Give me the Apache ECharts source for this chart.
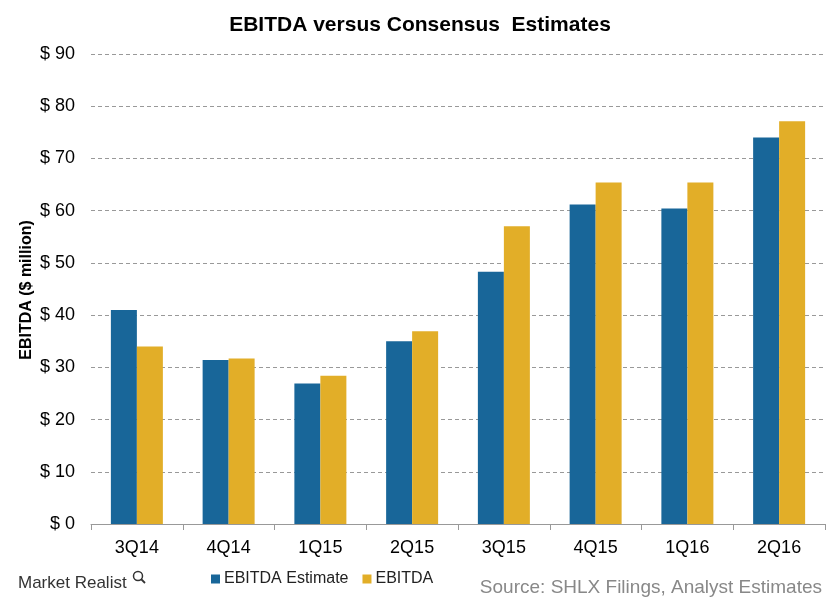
<!DOCTYPE html>
<html><head><meta charset="utf-8">
<script src="https://cdn.jsdelivr.net/npm/echarts@6/dist/echarts.min.js"></script>
<style>html,body{margin:0;padding:0;background:#fff}#c{width:840px;height:601px}</style>
</head><body><div id="c"></div>
<script>
var categories = ['3Q14','4Q14','1Q15','2Q15','3Q15','4Q15','1Q16','2Q16'];
var estimate = [41.0, 31.4, 26.9, 35.0, 48.3, 61.2, 60.4, 74.0];
var ebitda = [34.0, 31.7, 28.4, 36.9, 57.0, 65.4, 65.4, 77.1];
var yTicks = [0,10,20,30,40,50,60,70,80,90];
var yName = 'EBITDA ($ million)';

var chart = echarts.init(document.getElementById('c'), null, {renderer:'canvas'});
var font = 'Liberation Sans, Arial, sans-serif';
chart.setOption({
  animation:false,
  backgroundColor:'#fff',
  title:{text:'EBITDA versus Consensus  Estimates', left:'center', top:10,
    textStyle:{fontFamily:font, fontSize:21, fontWeight:'bold', color:'#000'}},
  grid:{left:91, right:15, top:54, bottom:77},
  legend:{top:566, left:206, itemWidth:9, itemHeight:9, itemGap:14, icon:'rect',
    textStyle:{fontFamily:font, fontSize:16, color:'#222', padding:[0,0,0,-1]},
    data:['EBITDA Estimate','EBITDA']},
  xAxis:{type:'category', data:categories,
    axisLine:{lineStyle:{color:'#999'}},
    axisTick:{show:true, length:6, lineStyle:{color:'#999'}},
    axisLabel:{fontFamily:font, fontSize:18, color:'#000', margin:15}},
  yAxis:{type:'value', min:0, max:90, interval:10,
    axisLine:{show:false}, axisTick:{show:false},
    axisLabel:{fontFamily:font, fontSize:18, color:'#000', margin:16,
      formatter:function(v){return yTicks.indexOf(v)>=0 ? '$ '+v : '';}},
    splitLine:{lineStyle:{color:'#999', type:[4,3]}}},
  series:[
    {name:'EBITDA Estimate', type:'bar', data:estimate, barWidth:26, barGap:'0%',
      itemStyle:{color:'#186699'}},
    {name:'EBITDA', type:'bar', data:ebitda, barWidth:26,
      itemStyle:{color:'#E2AE28'}}
  ],
  graphic:[
    {type:'text', x:27, y:290, rotation:Math.PI/2,
      style:{text:yName, font:'bold 16px '+font, fill:'#000', align:'center', verticalAlign:'middle'}},
    {type:'text', left:18, top:575, style:{text:'Market Realist', font:'17px '+font, fill:'#333'}},
    {type:'circle', shape:{cx:138, cy:576, r:4.5}, style:{fill:'none', stroke:'#333', lineWidth:1.5}},
    {type:'line', shape:{x1:141, y1:579, x2:145, y2:583}, style:{stroke:'#333', lineWidth:1.8}},
    {type:'text', right:18, top:578, style:{text:'Source: SHLX Filings, Analyst Estimates', font:'19px '+font, fill:'#888'}}
  ]
});
</script></body></html>
